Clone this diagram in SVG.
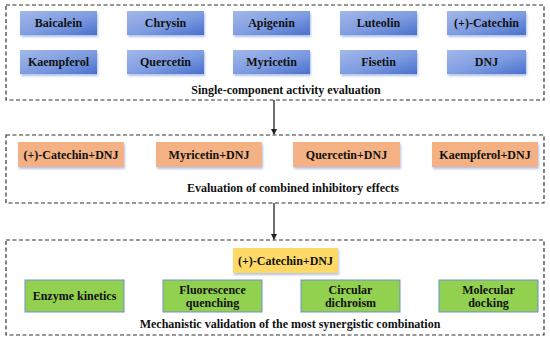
<svg xmlns="http://www.w3.org/2000/svg" width="550" height="341" viewBox="0 0 550 341">
<defs>
<linearGradient id="blueG" x1="0" y1="0" x2="1" y2="1">
<stop offset="0" stop-color="#a3b8ea"/>
<stop offset="0.55" stop-color="#7d9be0"/>
<stop offset="1" stop-color="#4a70cc"/>
</linearGradient>
<filter id="sh" x="-10%" y="-20%" width="125%" height="160%">
<feGaussianBlur in="SourceAlpha" stdDeviation="1.2"/>
<feOffset dx="1" dy="2" result="b"/>
<feFlood flood-color="#7f9bd8" flood-opacity="0.6"/>
<feComposite in2="b" operator="in"/>
<feMerge><feMergeNode/><feMergeNode in="SourceGraphic"/></feMerge>
</filter>
<marker id="arr" markerWidth="6" markerHeight="6" refX="5" refY="3" orient="auto" markerUnits="userSpaceOnUse">
<path d="M0,0 L6,3 L0,6 Z" fill="#222"/>
</marker>
</defs>
<style>
text{font-family:"Liberation Serif","Times New Roman",serif;font-weight:bold;font-size:12px;fill:#111;text-anchor:middle;dominant-baseline:central}
.frame{fill:none;stroke:#333;stroke-width:1.2;stroke-dasharray:4 2.5}
.blue{fill:url(#blueG);filter:url(#sh)}
.orange{fill:#f4b183;filter:url(#sh)}
.yellow{fill:#ffd966;filter:url(#sh)}
.green{fill:#92d050;stroke:#6f8fd0;stroke-width:1}
.conn{stroke:#222;stroke-width:1.3;fill:none}
</style>

<g id="stage1">
<rect class="frame" x="6" y="5" width="538" height="95"/>
<text x="286" y="90">Single-component activity evaluation</text>
</g>
<g id="baicalein"><rect class="blue" x="20" y="11" width="77" height="24"/><text x="58.5" y="23">Baicalein</text></g>
<g id="chrysin"><rect class="blue" x="127" y="11" width="77" height="24"/><text x="165.5" y="23">Chrysin</text></g>
<g id="apigenin"><rect class="blue" x="233" y="11" width="77" height="24"/><text x="271.5" y="23">Apigenin</text></g>
<g id="luteolin"><rect class="blue" x="340" y="11" width="77" height="24"/><text x="378.5" y="23">Luteolin</text></g>
<g id="catechin"><rect class="blue" x="447" y="11" width="79" height="24"/><text x="486.5" y="23">(+)-Catechin</text></g>
<g id="kaempferol"><rect class="blue" x="20" y="50" width="77" height="24"/><text x="58.5" y="62">Kaempferol</text></g>
<g id="quercetin"><rect class="blue" x="127" y="50" width="77" height="24"/><text x="165.5" y="62">Quercetin</text></g>
<g id="myricetin"><rect class="blue" x="233" y="50" width="77" height="24"/><text x="271.5" y="62">Myricetin</text></g>
<g id="fisetin"><rect class="blue" x="340" y="50" width="77" height="24"/><text x="378.5" y="62">Fisetin</text></g>
<g id="dnj"><rect class="blue" x="447" y="50" width="79" height="24"/><text x="486.5" y="62">DNJ</text></g>

<g id="stage2">
<rect class="frame" x="6" y="135" width="538" height="68"/>
<text x="293" y="188">Evaluation of combined inhibitory effects</text>
</g>
<g id="catechin-dnj"><rect class="orange" x="18" y="142" width="106" height="25"/><text x="71" y="154.5">(+)-Catechin+DNJ</text></g>
<g id="myricetin-dnj"><rect class="orange" x="156" y="142" width="106" height="25"/><text x="209" y="154.5">Myricetin+DNJ</text></g>
<g id="quercetin-dnj"><rect class="orange" x="293" y="142" width="107" height="25"/><text x="346.5" y="154.5">Quercetin+DNJ</text></g>
<g id="kaempferol-dnj"><rect class="orange" x="432" y="142" width="106" height="25"/><text x="485" y="154.5">Kaempferol+DNJ</text></g>

<g id="stage3">
<rect class="frame" x="6" y="240" width="538" height="95"/>
<text x="290" y="324">Mechanistic validation of the most synergistic combination</text>
</g>
<g id="best"><rect class="yellow" x="233" y="248" width="105" height="25"/><text x="285.5" y="260.5">(+)-Catechin+DNJ</text></g>
<g id="kinetics"><rect class="green" x="25" y="280" width="99" height="32"/><text x="74.5" y="296">Enzyme kinetics</text></g>
<g id="fluorescence"><rect class="green" x="163" y="280" width="99" height="32"/><text x="212.5" y="289.5">Fluorescence</text><text x="212.5" y="302.5">quenching</text></g>
<g id="cd"><rect class="green" x="301" y="280" width="99" height="32"/><text x="350.5" y="289.5">Circular</text><text x="350.5" y="302.5">dichroism</text></g>
<g id="docking"><rect class="green" x="439" y="280" width="99" height="32"/><text x="488.5" y="289.5">Molecular</text><text x="488.5" y="302.5">docking</text></g>

<g id="connectors">
<line class="conn" x1="274" y1="100" x2="274" y2="134" marker-end="url(#arr)"/>
<line class="conn" x1="274" y1="203" x2="274" y2="239" marker-end="url(#arr)"/>
</g>
</svg>
